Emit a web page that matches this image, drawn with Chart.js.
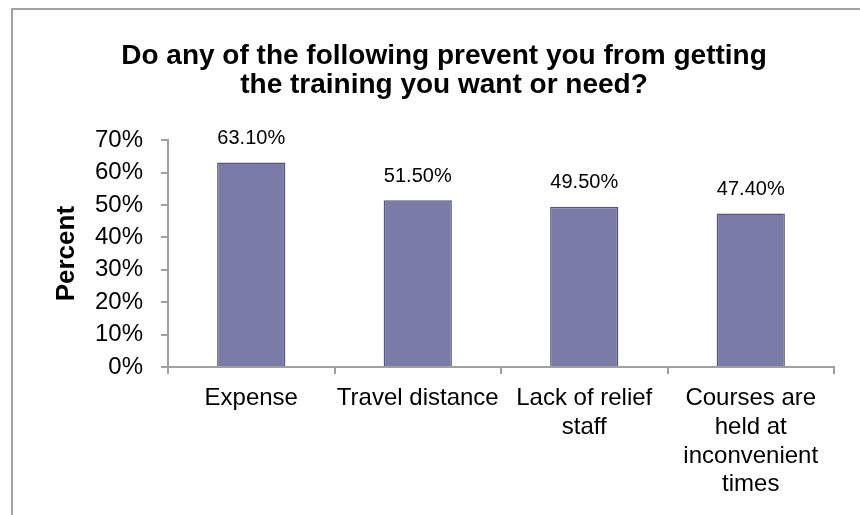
<!DOCTYPE html>
<html>
<head>
<meta charset="utf-8">
<script src="https://cdn.jsdelivr.net/npm/chart.js@4.4.0/dist/chart.umd.min.js"></script>
<style>
  html, body { margin: 0; padding: 0; background: #fff; }
  #wrap { position: relative; width: 860px; height: 515px; overflow: hidden; }
  #frame {
    position: absolute; left: 11px; top: 8px; width: 900px; height: 505px;
    border-top: 2px solid #a3a3a3; border-left: 2px solid #a3a3a3;
    border-bottom: 1px solid #e4e4e4;
  }
  canvas { position: absolute; left: 0; top: 0; }
</style>
</head>
<body>
<div id="wrap">
  <div id="frame"></div>
  <canvas id="trainingChart" width="860" height="515"></canvas>
</div>
<script>
// survey answers, percent of respondents
var categories = [
  "Expense",
  "Travel distance",
  ["Lack of relief", "staff"],
  ["Courses are", "held at", "inconvenient", "times"]
];
var percents = [63.1, 51.5, 49.5, 47.4];
var yTicks = [0, 10, 20, 30, 40, 50, 60, 70];

var fontName = "'Liberation Sans', Arial, sans-serif";
var axisGray = "#a0a0a0";

// value labels above each bar
var barLabels = {
  id: "barLabels",
  afterDatasetsDraw: function(chart) {
    var c = chart.ctx;
    var meta = chart.getDatasetMeta(0);
    c.save();
    c.font = "20px " + fontName;
    c.fillStyle = "#000";
    c.textAlign = "center";
    c.textBaseline = "middle";
    meta.data.forEach(function(bar, i) {
      c.fillText(percents[i].toFixed(2) + "%", bar.x, bar.y - 24);
    });
    c.restore();
  }
};

var ctx = document.getElementById("trainingChart").getContext("2d");

var myChart = new Chart(ctx, {
  type: "bar",
  data: {
    labels: categories,
    datasets: [{
      label: "Percent",
      data: percents,
      backgroundColor: "#7b7ba8",
      borderColor: "#56567e",
      borderWidth: 1.5,
      barPercentage: 0.41,
      categoryPercentage: 1
    }]
  },
  options: {
    responsive: false,
    animation: false,
    layout: { padding: { left: 54, right: 26, top: 0, bottom: 0 } },
    plugins: {
      legend: { display: false },
      tooltip: { enabled: false },
      title: {
        display: true,
        text: ["Do any of the following prevent you from getting", "the training you want or need?"],
        color: "#000",
        font: { family: fontName, size: 28, weight: "bold", lineHeight: 1.04 },
        padding: { top: 42, bottom: 40 }
      }
    },
    scales: {
      x: {
        offset: true,
        grid: {
          offset: true,
          drawOnChartArea: false,
          drawTicks: true,
          tickLength: 7,
          color: axisGray,
          lineWidth: 2
        },
        border: { color: axisGray, width: 2 },
        ticks: {
          color: "#000",
          font: { family: fontName, size: 24, lineHeight: 1.2 },
          maxRotation: 0,
          minRotation: 0,
          autoSkip: false,
          padding: 10
        },
        afterFit: function(scale) { scale.height = 148; }
      },
      y: {
        min: 0,
        max: 70,
        afterBuildTicks: function(scale) {
          scale.ticks = yTicks.map(function(v) { return { value: v }; });
        },
        grid: {
          drawOnChartArea: false,
          drawTicks: true,
          tickLength: 7,
          color: axisGray,
          lineWidth: 2
        },
        border: { color: axisGray, width: 2 },
        ticks: {
          color: "#000",
          font: { family: fontName, size: 24 },
          padding: 18,
          callback: function(v) { return v + "%"; }
        },
        title: {
          display: true,
          text: "Percent",
          color: "#000",
          font: { family: fontName, size: 26, weight: "bold", lineHeight: 1 },
          padding: { top: 0, bottom: 0 }
        },
        afterFit: function(scale) { scale.width = 114; }
      }
    }
  },
  plugins: [barLabels]
});
</script>
</body>
</html>
